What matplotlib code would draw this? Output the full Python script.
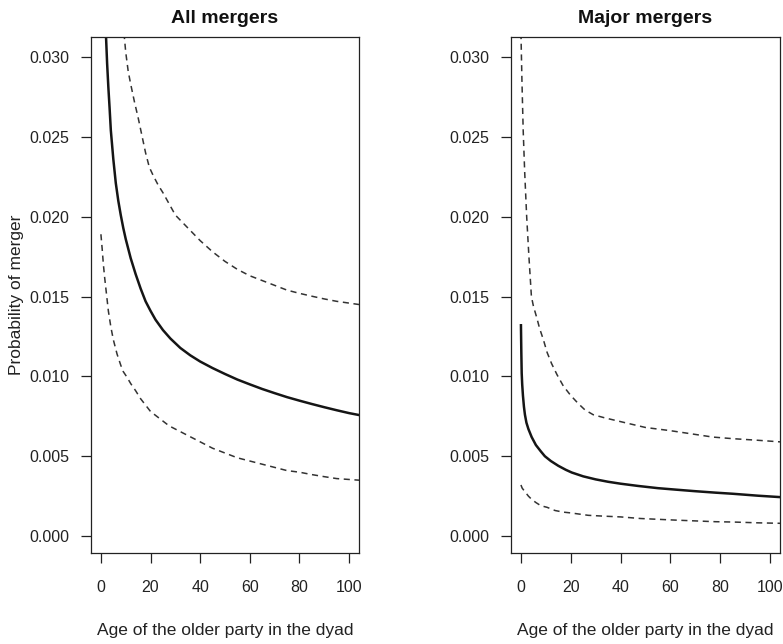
import numpy as np
import matplotlib
matplotlib.use("Agg")
import matplotlib.pyplot as plt

plt.rcParams['font.family'] = ['Liberation Sans', 'DejaVu Sans']

# All mergers
all_age = [2, 2.5, 3, 3.5, 4, 5, 6, 7, 8, 9, 10, 12, 14, 16, 18, 20, 22, 25, 28, 32, 36,
           40, 45, 50, 55, 60, 65, 70, 75, 80, 85, 90, 95, 100, 104]
all_est = [0.0315, 0.0296, 0.0281, 0.0268, 0.0254, 0.0236, 0.0221, 0.0210, 0.0201, 0.0193,
           0.0186, 0.0174, 0.0164, 0.0155, 0.0147, 0.0141, 0.01355, 0.0129, 0.01237, 0.01178,
           0.01132, 0.01093, 0.01052, 0.01015, 0.0098, 0.0095, 0.00921, 0.00895, 0.0087,
           0.00848, 0.00827, 0.00807, 0.00788, 0.0077, 0.00758]

all_up_age = [9.3, 10, 11, 12, 13.5, 15, 16.5, 18, 19.5, 21, 23, 25, 27.5, 30, 35, 40, 45,
              50, 55, 60, 65, 70, 75, 80, 85, 90, 95, 104]
all_up = [0.0315, 0.0303, 0.0291, 0.0283, 0.0272, 0.0262, 0.0251, 0.0240, 0.0231, 0.0226,
          0.0220, 0.0215, 0.0208, 0.0201, 0.0193, 0.0185, 0.0178, 0.0172, 0.0167, 0.0163,
          0.0160, 0.0157, 0.0154, 0.0152, 0.01502, 0.01485, 0.0147, 0.0145]

all_lo_age = [0, 0.5, 1, 1.5, 2, 3, 4, 5, 6.5, 8, 9, 10.5, 12, 14, 16, 18, 20, 22.5, 25,
              27.5, 30, 35, 40, 45, 50, 55, 60, 65, 70, 75, 80, 85, 90, 95, 104]
all_lo = [0.0189, 0.0180, 0.0170, 0.0162, 0.0155, 0.0141, 0.0131, 0.0123, 0.0114, 0.0107,
          0.0103, 0.00995, 0.00955, 0.0091, 0.0086, 0.0082, 0.0078, 0.0075, 0.0072, 0.0069,
          0.0067, 0.0063, 0.0059, 0.0055, 0.0052, 0.0049, 0.0047, 0.0045, 0.0043, 0.0041,
          0.0040, 0.00385, 0.00372, 0.0036, 0.0035]

# Major mergers
maj_age = [0, 0.15, 0.3, 0.5, 0.8, 1.2, 1.6, 2.2, 3, 4.3, 6, 8, 9.6, 12, 15, 18, 20.4, 25,
           30, 35, 40, 47, 55, 62, 70, 78, 85, 95, 104]
maj_est = [0.0132, 0.0115, 0.0102, 0.0095, 0.0088, 0.0081, 0.0076, 0.0071, 0.0067, 0.0062,
           0.0057, 0.0053, 0.0050, 0.0047, 0.0044, 0.00415, 0.00398, 0.00374, 0.00355, 0.0034,
           0.00328, 0.00314, 0.0030, 0.00291, 0.00281, 0.00272, 0.00265, 0.00253, 0.00244]

maj_up_age = [0, 0.4, 0.9, 1.5, 2.3, 3.2, 4.2, 5, 6.3, 7.5, 9, 10.5, 12.3, 14.5, 17, 20, 23,
              25.7, 29, 33.7, 41.8, 50, 60, 68.5, 77, 85, 95, 104]
maj_up = [0.0315, 0.0285, 0.0254, 0.0228, 0.0200, 0.0175, 0.0150, 0.0144, 0.0137, 0.0130,
          0.0123, 0.0115, 0.0108, 0.0101, 0.0094, 0.0088, 0.0083, 0.0079, 0.0076, 0.0074,
          0.0071, 0.0068, 0.0066, 0.0064, 0.0062, 0.0061, 0.0060, 0.0059]

maj_lo_age = [0, 0.5, 1, 2, 3, 4.3, 6, 8, 10.5, 13.7, 17, 20, 27, 33, 40, 48, 55, 62, 70,
              78, 85, 95, 104]
maj_lo = [0.0032, 0.0030, 0.0029, 0.0027, 0.0025, 0.0023, 0.0021, 0.0019, 0.0018, 0.0016,
          0.0015, 0.00145, 0.0013, 0.00125, 0.0012, 0.0011, 0.00105, 0.0010, 0.00095,
          0.0009, 0.00088, 0.00083, 0.0008]

xticks = [0, 20, 40, 60, 80, 100]
yticks = [0.000, 0.005, 0.010, 0.015, 0.020, 0.025, 0.030]

fig = plt.figure(figsize=(7.83, 6.44), dpi=100)
ax1 = fig.add_axes([0.1162, 0.1413, 0.3423, 0.8012])
ax2 = fig.add_axes([0.6526, 0.1413, 0.3436, 0.8012])

panels = [
    (ax1, "All mergers", all_age, all_est, all_up_age, all_up, all_lo_age, all_lo),
    (ax2, "Major mergers", maj_age, maj_est, maj_up_age, maj_up, maj_lo_age, maj_lo),
]

for ax, title, a, est, ua, up, la, lo in panels:
    ax.plot(a, est, color='#151515', lw=1.8, solid_joinstyle='round')
    ax.plot(ua, up, color='#333333', lw=1.1, linestyle=(0, (4, 3)))
    ax.plot(la, lo, color='#333333', lw=1.1, linestyle=(0, (4, 3)))
    ax.set_xlim(-4, 104)
    ax.set_ylim(-0.00106, 0.03125)
    ax.set_xticks(xticks)
    ax.set_yticks(yticks)
    ax.set_yticklabels(["%.3f" % v for v in yticks])
    ax.tick_params(direction='out', length=7.5, width=0.9, labelsize=11.5,
                   colors='#222222')
    ax.tick_params(axis='x', pad=12)
    ax.tick_params(axis='y', pad=8)
    for s in ax.spines.values():
        s.set_linewidth(0.9)
        s.set_color('#222222')
    ax.set_title(title, fontsize=14, fontweight='bold', pad=10, color='#111111')
    ax.set_xlabel("Age of the older party in the dyad", fontsize=12.5, labelpad=20,
                  color='#222222')

ax1.set_ylabel("Probability of merger", fontsize=12.5, labelpad=4, color='#222222')

fig.savefig("out.png", dpi=100)
